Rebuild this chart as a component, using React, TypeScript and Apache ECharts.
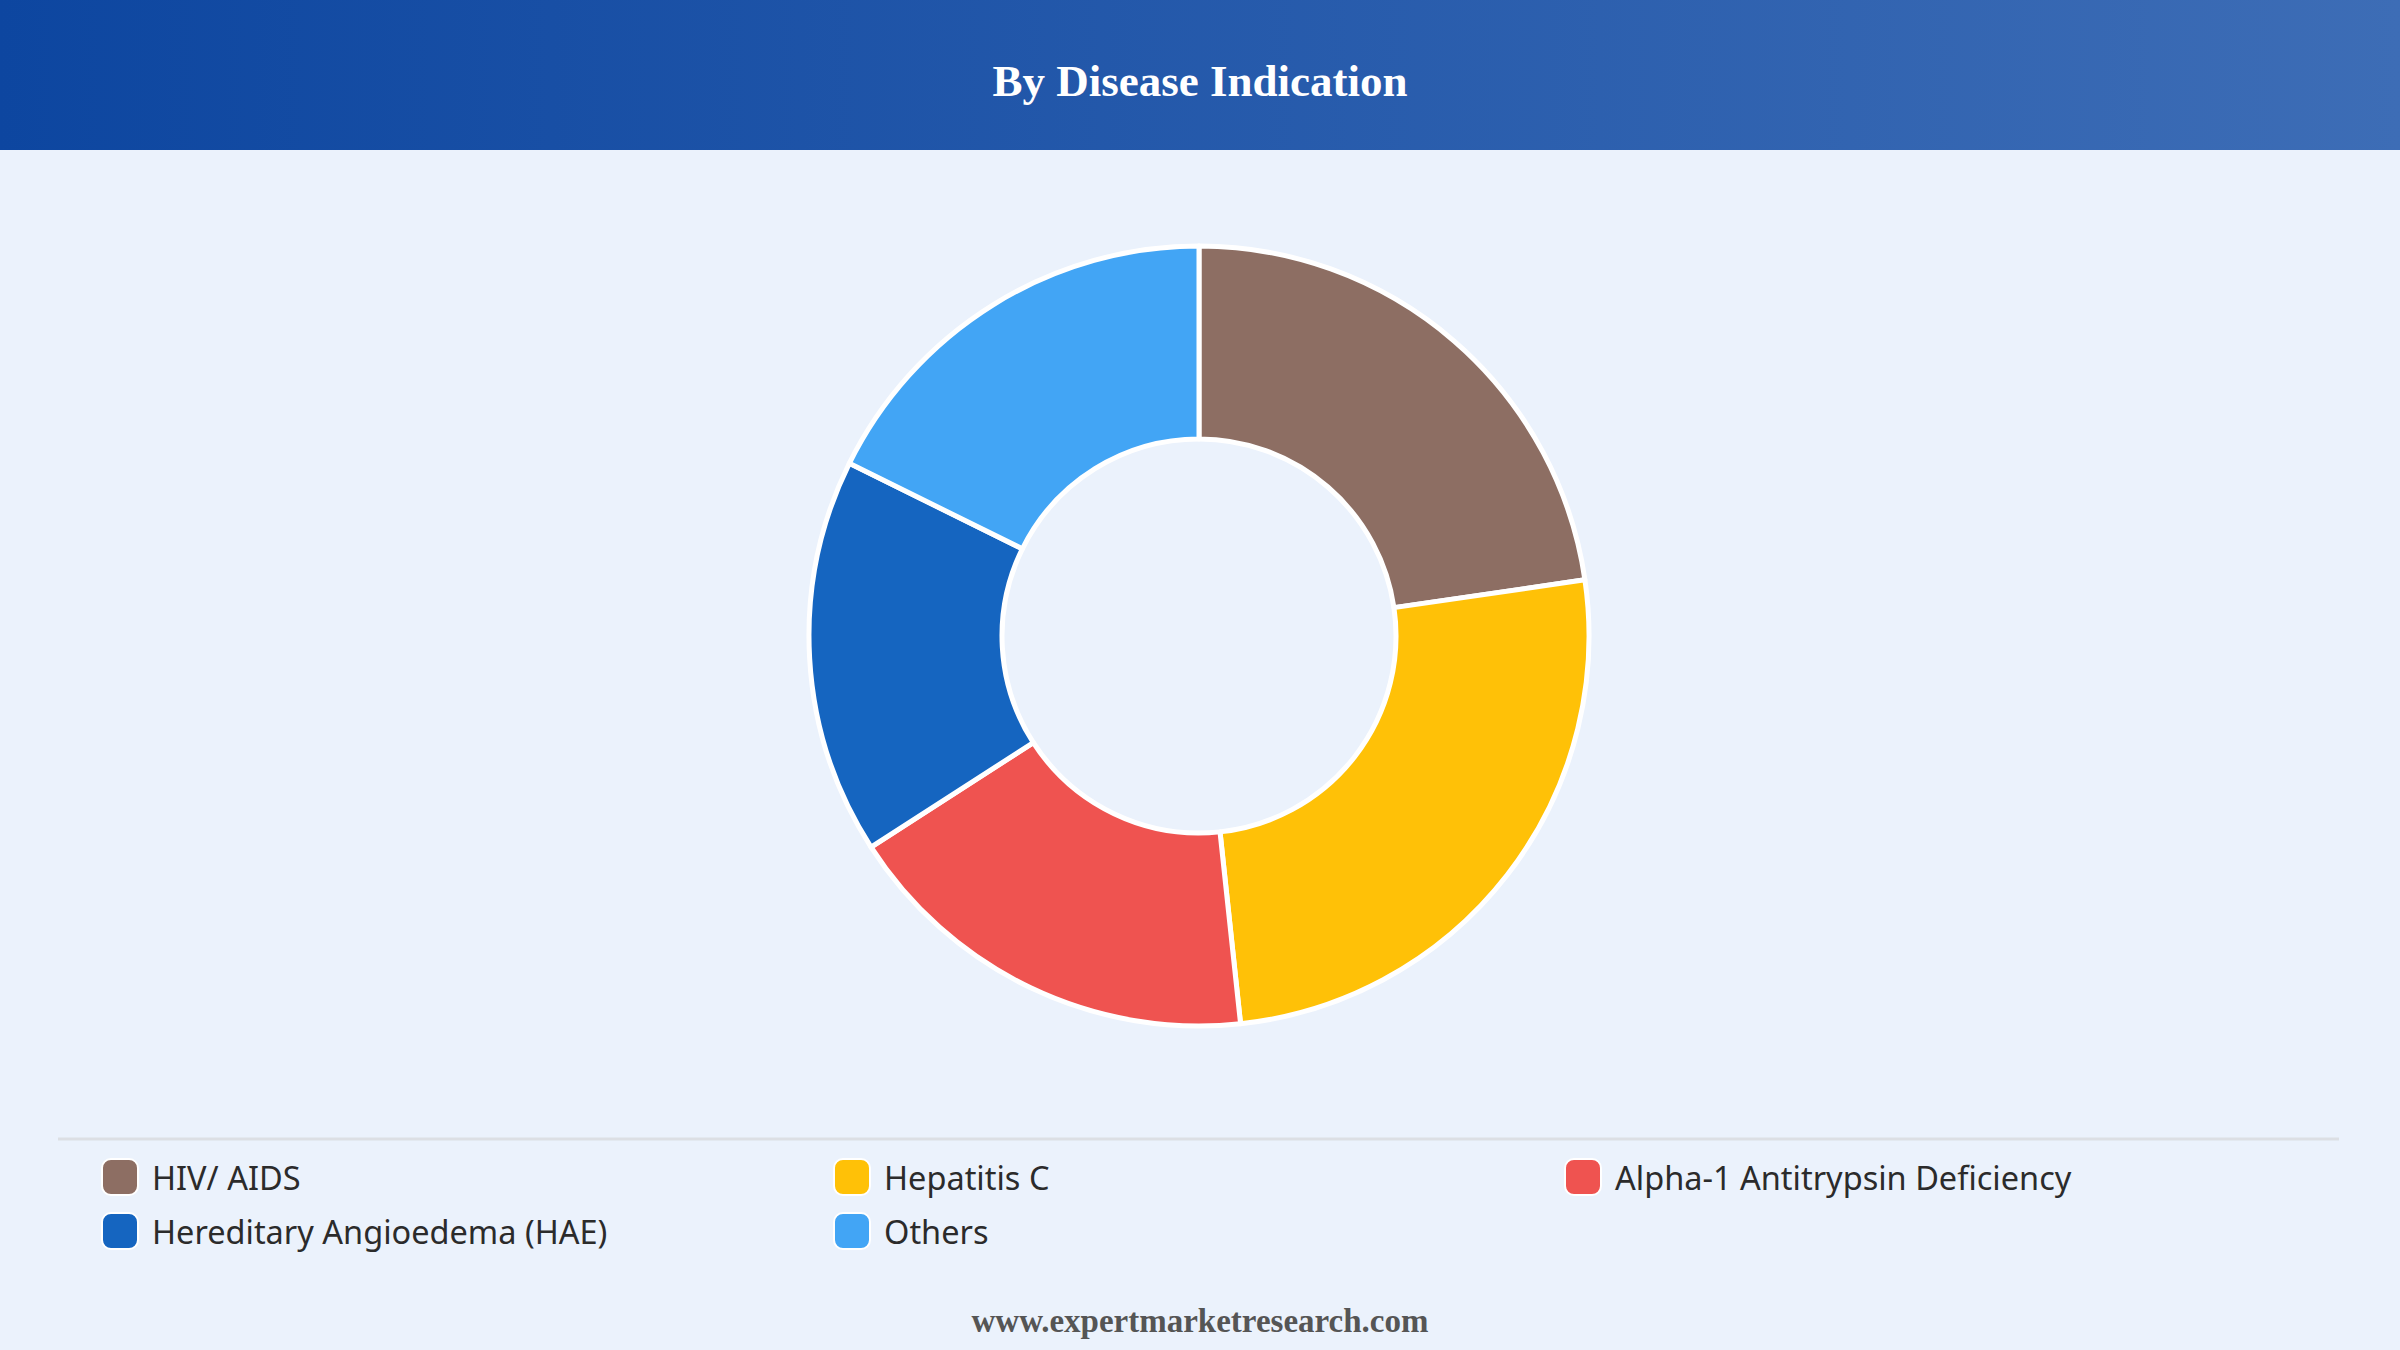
import React, { useEffect, useRef } from "react";
import * as echarts from "echarts";

const categories = [
  "HIV/ AIDS",
  "Hepatitis C",
  "Alpha-1 Antitrypsin Deficiency",
  "Hereditary Angioedema (HAE)",
  "Others",
];
const values = [22.7, 25.6, 17.6, 16.4, 17.7];
const colors = ["#8D6E63", "#FFC107", "#EF5350", "#1565C0", "#42A5F5"];
const titleText = "By Disease Indication";
const footerText = "www.expertmarketresearch.com";

// legend grid positions (column x, row y)
const legendCols = [101, 833, 1564];
const legendRows = [1158, 1212];

export default function App() {
  const ref = useRef<HTMLDivElement>(null);
  useEffect(() => {
    if (!ref.current) return;
    const chart = echarts.init(ref.current, undefined, { renderer: "svg" });
    const legends = categories.map((name, i) => ({
      data: [name],
      left: legendCols[i % 3],
      top: legendRows[Math.floor(i / 3)],
      icon: "roundRect",
      itemWidth: 36,
      itemHeight: 36,
      padding: 0,
      selectedMode: false,
      textStyle: {
        fontSize: 32.5,
        color: "#2B2B2B",
        fontFamily: "Noto Sans",
        padding: [0, 0, 0, 9],
      },
    }));
    chart.setOption({
      animation: false,
      backgroundColor: "#EBF2FC",
      color: colors,
      legend: legends,
      graphic: [
        {
          type: "rect",
          shape: { x: 0, y: 0, width: 2400, height: 150 },
          style: {
            fill: new echarts.graphic.LinearGradient(0, 0, 1, 0, [
              { offset: 0, color: "#0D46A0" },
              { offset: 1, color: "#3D6DB6" },
            ]),
          },
          silent: true,
        },
        {
          type: "text",
          x: 1200,
          y: 81,
          style: {
            text: titleText,
            fill: "#ffffff",
            font: "bold 45px 'Liberation Serif', 'Times New Roman', serif",
            textAlign: "center",
            textVerticalAlign: "middle",
          },
          silent: true,
        },
        {
          type: "line",
          shape: { x1: 58, y1: 1139, x2: 2339, y2: 1139 },
          style: { stroke: "#DCDFE4", lineWidth: 3 },
          silent: true,
        },
        {
          type: "text",
          x: 1200,
          y: 1321,
          style: {
            text: footerText,
            fill: "#555555",
            font: "bold 33px 'Liberation Serif', 'Times New Roman', serif",
            textAlign: "center",
            textVerticalAlign: "middle",
          },
          silent: true,
        },
      ],
      series: [
        {
          type: "pie",
          center: [1199, 636],
          radius: [197, 390],
          startAngle: 90,
          clockwise: true,
          label: { show: false },
          labelLine: { show: false },
          emphasis: { disabled: true },
          itemStyle: { borderColor: "#ffffff", borderWidth: 5 },
          data: categories.map((name, i) => ({ name, value: values[i] })),
        },
      ],
    });
    return () => chart.dispose();
  }, []);
  return (
    <div
      ref={ref}
      style={{ position: "fixed", left: 0, top: 0, width: 2400, height: 1350 }}
    />
  );
}
